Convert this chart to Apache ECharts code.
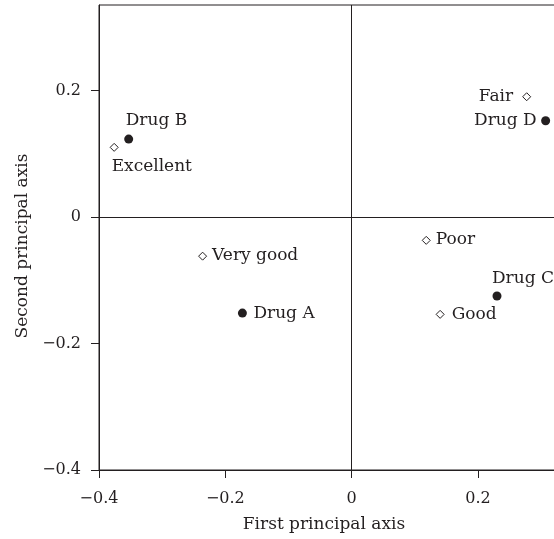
<!DOCTYPE html>
<html>
<head>
<meta charset="utf-8">
<script src="https://cdn.jsdelivr.net/npm/echarts@6/dist/echarts.min.js"></script>
<style>
	html, body { margin: 0; padding: 0; background: #fff; }
	#chart { width: 554px; height: 539px; }
</style>
</head>
<body>
<div id="chart"></div>
<script>
// drugs (filled dots)
var drugNames = ['Drug A', 'Drug B', 'Drug C', 'Drug D'];
var drugX = [-0.173, -0.353, 0.230, 0.307];
var drugY = [-0.152, 0.123, -0.125, 0.152];

// ratings (open diamonds)
var ratingNames = ['Excellent', 'Very good', 'Good', 'Fair', 'Poor'];
var ratingX = [-0.376, -0.236, 0.140, 0.277, 0.118];
var ratingY = [0.110, -0.062, -0.154, 0.190, -0.037];

var tickValues = [-0.4, -0.2, 0, 0.2];

var ink = '#231f20';
var font = 'DejaVu Serif';

// label placement: [align, dx, dy] from the marker centre
var labelPlace = {
	'Drug A': ['left', 11, 0],
	'Drug B': ['left', -3, -19],
	'Drug C': ['left', -5, -17],
	'Drug D': ['right', -9, 0],
	'Excellent': ['left', -2, 20],
	'Very good': ['left', 10, 0],
	'Good': ['left', 12, 1],
	'Fair': ['right', -13, 0],
	'Poor': ['left', 10, 0]
};

function buildPoints(names, xs, ys, size) {
	return names.map(function(n, i) {
		var p = labelPlace[n];
		return {
			name: n,
			value: [xs[i], ys[i]],
			label: {
				show: true,
				position: [size / 2 + p[1], size / 2 + p[2]],
				align: p[0],
				verticalAlign: 'middle',
				formatter: '{b}'
			}
		};
	});
}

function fmt(v) {
	return String(v).replace('-', '\u2212');
}

var chart = echarts.init(document.getElementById('chart'));
chart.setOption({
	animation: false,
	textStyle: { fontFamily: font, color: ink },
	grid: {
		left: 99,
		right: -3,
		top: 5,
		bottom: 69,
		outerBoundsMode: 'none',
		containLabel: false,
		show: true,
		borderColor: ink,
		borderWidth: 1
	},
	xAxis: {
		type: 'value',
		min: -0.4,
		max: 0.325,
		name: 'First principal axis',
		nameLocation: 'middle',
		nameGap: 46,
		nameTextStyle: { fontFamily: font, fontSize: 17, color: ink, padding: [0, 8, 0, 0] },
		splitLine: { show: false },
		axisLine: { onZero: false, lineStyle: { color: ink, width: 1 } },
		axisTick: { show: true, length: 8, customValues: tickValues, lineStyle: { color: ink } },
		axisLabel: { customValues: tickValues, margin: 21, fontFamily: font, fontSize: 16, color: ink, formatter: fmt }
	},
	yAxis: {
		type: 'value',
		min: -0.4,
		max: 0.335,
		name: 'Second principal axis',
		nameLocation: 'middle',
		nameGap: 57,
		nameTextStyle: { fontFamily: font, fontSize: 17, color: ink, padding: [0, 17, 0, 0] },
		splitLine: { show: false },
		axisLine: { onZero: false, lineStyle: { color: ink, width: 1 } },
		axisTick: { show: true, length: 8, customValues: tickValues, lineStyle: { color: ink } },
		axisLabel: { customValues: tickValues, margin: 18, fontFamily: font, fontSize: 16, color: ink, formatter: fmt }
	},
	series: [{
		name: 'drugs',
		type: 'scatter',
		symbol: 'circle',
		symbolSize: 9,
		itemStyle: { color: ink, opacity: 1 },
		label: { fontFamily: font, fontSize: 17, color: ink },
		data: buildPoints(drugNames, drugX, drugY, 9),
		markLine: {
			silent: true,
			symbol: 'none',
			label: { show: false },
			lineStyle: { color: ink, width: 1, type: 'solid', opacity: 1 },
			data: [{ xAxis: 0 }, { yAxis: 0 }]
		}
	}, {
		name: 'ratings',
		type: 'scatter',
		symbol: 'diamond',
		symbolSize: 8,
		itemStyle: { color: '#fff', borderColor: ink, borderWidth: 1, opacity: 1 },
		label: { fontFamily: font, fontSize: 17, color: ink },
		data: buildPoints(ratingNames, ratingX, ratingY, 8)
	}]
});
</script>
</body>
</html>
